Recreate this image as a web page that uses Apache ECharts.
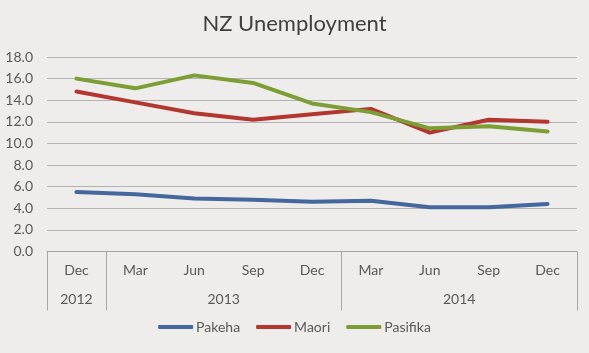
<!DOCTYPE html>
<html>
<head>
<meta charset="utf-8">
<script src="https://cdn.jsdelivr.net/npm/echarts@6/dist/echarts.min.js"></script>
<style>
html,body{margin:0;padding:0;background:#eeedeb;}
#c{width:589px;height:353px;}
</style>
</head>
<body>
<div id="c"></div>
<script>
const months = ['Dec','Mar','Jun','Sep','Dec','Mar','Jun','Sep','Dec'];
const years = ['2012','2013','2014'];
const yearSpans = [1,4,4];
const pakeha = [5.5,5.3,4.9,4.8,4.6,4.7,4.1,4.1,4.4];
const maori = [14.8,13.8,12.8,12.2,12.7,13.2,11.0,12.2,12.0];
const pasifika = [16.0,15.1,16.3,15.6,13.7,12.9,11.4,11.6,11.1];
const yTicks = [0,2,4,6,8,10,12,14,16,18];

// year group boundaries and centres (in category units)
const bounds = [0];
const centres = [];
yearSpans.forEach(s => { const a = bounds[bounds.length-1]; centres.push(a + s/2); bounds.push(a + s); });

const font = 'Lato, "Open Sans", sans-serif';
const txt = '#595959';
const chart = echarts.init(document.getElementById('c'), null, {renderer:'canvas'});
chart.setOption({
  backgroundColor:'#eeedeb',
  animation:false,
  title:{text:'NZ Unemployment', left:'center', top:8,
    textStyle:{fontFamily:font, fontSize:22, fontWeight:'normal', color:'#404040'}},
  grid:{left:47, right:12, top:57, bottom:101.5, containLabel:false},
  legend:{bottom:14, left:'center', itemWidth:35, itemHeight:4, itemGap:16, icon:'roundRect',
    textStyle:{fontFamily:font, fontSize:14, color:txt, padding:[0,0,0,-2]},
    data:['Pakeha','Maori','Pasifika']},
  xAxis:[
    {type:'category', data:months, boundaryGap:true, position:'bottom',
     axisLine:{show:true, lineStyle:{color:'#a6a6a6', width:1}},
     axisTick:{show:false},
     axisLabel:{fontFamily:font, fontSize:14, color:txt, margin:12}},
    {type:'value', min:0, max:months.length, position:'bottom',
     axisLine:{show:false}, splitLine:{show:false},
     axisTick:{show:true, customValues:bounds, length:59, lineStyle:{color:'#a6a6a6'}},
     axisLabel:{customValues:centres, fontFamily:font, fontSize:14, color:txt, margin:41,
       formatter:(v)=>{ const i = centres.indexOf(v); return i>=0 ? years[i] : ''; }}}
  ],
  yAxis:{type:'value', min:0, max:18, interval:2,
    axisLine:{show:false}, axisTick:{show:false},
    splitLine:{lineStyle:{color:'#b3b3b3', width:1}},
    axisLabel:{fontFamily:font, fontSize:14, color:txt, margin:14,
      formatter:(v)=>v.toFixed(1)}},
  series:[
    {name:'Pakeha', type:'line', data:pakeha, xAxisIndex:0, symbol:'none',
     lineStyle:{width:4, color:'#44679e', join:'round', cap:'round'}, itemStyle:{color:'#44679e'}},
    {name:'Maori', type:'line', data:maori, xAxisIndex:0, symbol:'none',
     lineStyle:{width:4, color:'#b3362f', join:'round', cap:'round'}, itemStyle:{color:'#b3362f'}},
    {name:'Pasifika', type:'line', data:pasifika, xAxisIndex:0, symbol:'none',
     lineStyle:{width:4, color:'#7d9e35', join:'round', cap:'round'}, itemStyle:{color:'#7d9e35'}}
  ]
});
</script>
</body>
</html>
